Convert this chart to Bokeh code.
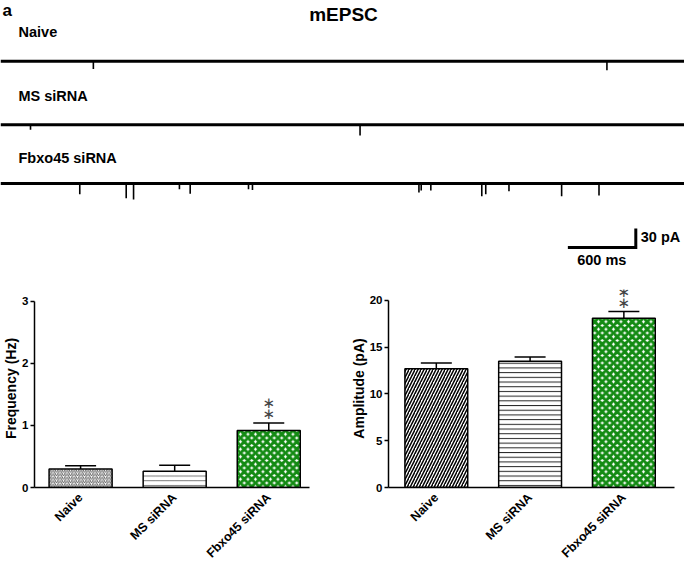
from math import pi
from bokeh.plotting import figure
from bokeh.layouts import column, row
from bokeh.models import Range1d, FixedTicker, Label, Whisker, TeeHead, ColumnDataSource
from bokeh.embed import file_html
from bokeh.resources import INLINE

# ---------------- data ----------------
trace_names = ["Naive", "MS siRNA", "Fbxo45 siRNA"]
trace_offset = [-96, -196, -289]          # pA, vertical placement of each trace
trace_len_ms = 6040
naive_t = [820, 5355]
naive_amp = [12, 14]
ms_t = [265, 3175]
ms_amp = [8, 17]
fbxo_t = [700, 1110, 1175, 1580, 1675, 2190, 2225, 3695, 3715, 3800,
          4250, 4285, 4490, 4955, 5285]
fbxo_amp = [17, 23, 25, 9, 16, 9, 10, 14, 11, 11, 20, 17, 12, 20, 19]
scale_ms = 600
scale_pa = 30

groups = ["Naive", "MS siRNA", "Fbxo45 siRNA"]
freq_mean = [0.30, 0.26, 0.92]
freq_sem = [0.05, 0.10, 0.12]
amp_mean = [12.7, 13.5, 18.1]
amp_sem = [0.6, 0.45, 0.7]
freq_ticks = [0, 1, 2, 3]
amp_ticks = [0, 5, 10, 15, 20]

FONT = "Liberation Sans"
GREEN = "#138a13"
TOP_H = 280

# ---------------- traces ----------------
top = figure(width=684, height=TOP_H, x_range=Range1d(0, trace_len_ms),
             y_range=Range1d(-442, 0), output_backend="svg",
             toolbar_location=None, x_axis_location=None, y_axis_location=None,
             min_border=0)
top.outline_line_color = None
top.xgrid.visible = False
top.ygrid.visible = False

events = [(naive_t, naive_amp), (ms_t, ms_amp), (fbxo_t, fbxo_amp)]
for off, (ts, amps) in zip(trace_offset, events):
    top.line(x=[0, trace_len_ms], y=[off, off], line_color="black", line_width=3)
    top.segment(x0=ts, y0=[off] * len(ts), x1=ts, y1=[off - a for a in amps],
                line_color="black", line_width=1.6)

sb_x0 = 5010
sb_y0 = -390
top.line(x=[sb_x0, sb_x0 + scale_ms, sb_x0 + scale_ms],
         y=[sb_y0, sb_y0, sb_y0 + scale_pa],
         line_color="black", line_width=3, line_join="miter")
top.add_layout(Label(x=sb_x0 + scale_ms, y=sb_y0 + scale_pa / 2 + 2, x_offset=5,
                     text=f"{scale_pa} pA", text_font=FONT, text_font_style="bold",
                     text_font_size="14.5px", text_baseline="middle", text_color="black"))
top.add_layout(Label(x=sb_x0 + scale_ms / 2, y=sb_y0, y_offset=-12,
                     text=f"{scale_ms} ms", text_font=FONT, text_font_style="bold",
                     text_font_size="14.5px", text_baseline="middle", text_align="center",
                     text_color="black"))

top.add_layout(Label(x=2, y=TOP_H, x_units="screen", y_units="screen", text="a",
                     text_font=FONT, text_font_style="bold", text_font_size="17px",
                     text_baseline="top", text_color="black"))
top.add_layout(Label(x=343, y=TOP_H - 14, x_units="screen", y_units="screen", text="mEPSC",
                     text_font=FONT, text_font_style="bold", text_font_size="19px",
                     text_baseline="middle", text_align="center", text_color="black"))
for name, ry in zip(trace_names, [31, 95, 157]):
    top.add_layout(Label(x=18, y=TOP_H - ry, x_units="screen", y_units="screen", text=name,
                         text_font=FONT, text_font_style="bold", text_font_size="14.5px",
                         text_baseline="middle", text_color="black"))

# ---------------- bar charts ----------------
def bar_panel(means, sems, ymax, yview, ticks, ylabel, width, xr, borders, styles):
    p = figure(width=width, height=288, x_range=Range1d(*xr), y_range=Range1d(0, yview),
               output_backend="svg", toolbar_location=None,
               min_border_left=borders[0], min_border_right=borders[1],
               min_border_top=borders[2], min_border_bottom=borders[3])
    p.outline_line_color = None
    p.xgrid.visible = False
    p.ygrid.visible = False
    xs = list(range(1, len(groups) + 1))
    uppers = [m + s for m, s in zip(means, sems)]
    for x, m, st in zip(xs, means, styles):
        p.vbar(x=[x], top=[m], bottom=0, width=0.67, line_color="black", line_width=1.5, **st)
    src = ColumnDataSource(dict(x=xs, lower=means, upper=uppers))
    p.add_layout(Whisker(source=src, base="x", lower="lower", upper="upper",
                         line_width=1.5, line_color="black",
                         upper_head=TeeHead(size=31, line_width=1.5, line_color="black"),
                         lower_head=None))
    for yo in (9, 19.5):
        p.add_layout(Label(x=xs[2], y=uppers[2], y_offset=yo, text="\u2217",
                           text_font="DejaVu Sans", text_font_size="15px",
                           text_color="#444444", text_align="center",
                           text_baseline="middle"))
    ya = p.yaxis[0]
    ya.bounds = (0, ymax)
    ya.ticker = FixedTicker(ticks=ticks)
    ya.minor_tick_line_color = None
    ya.major_tick_in = 0
    ya.major_tick_out = 4
    ya.major_tick_line_width = 1.5
    ya.axis_line_width = 1.5
    ya.axis_line_color = "black"
    ya.major_tick_line_color = "black"
    ya.major_label_text_color = "black"
    ya.major_label_text_font = FONT
    ya.major_label_text_font_style = "bold"
    ya.major_label_text_font_size = "11.5px"
    ya.major_label_standoff = 2
    ya.axis_label = ylabel
    ya.axis_label_text_color = "black"
    ya.axis_label_text_font = FONT
    ya.axis_label_text_font_style = "bold"
    ya.axis_label_text_font_size = "14px"
    ya.axis_label_standoff = 0
    xa = p.xaxis[0]
    xa.ticker = FixedTicker(ticks=xs)
    xa.major_label_overrides = {x: g for x, g in zip(xs, groups)}
    xa.major_label_orientation = pi / 4
    xa.major_tick_out = 0
    xa.major_tick_in = 0
    xa.minor_tick_line_color = None
    xa.axis_line_width = 1.5
    xa.axis_line_color = "black"
    xa.major_label_text_color = "black"
    xa.major_label_text_font = FONT
    xa.major_label_text_font_style = "bold"
    xa.major_label_text_font_size = "12.5px"
    xa.major_label_standoff = 8
    return p

left_styles = [
    dict(fill_color="white", hatch_pattern="/", hatch_scale=3.5, hatch_weight=0.8, hatch_color="#333333"),
    dict(fill_color="white", hatch_pattern="-", hatch_scale=4.7, hatch_weight=0.8, hatch_color="#555555"),
    dict(fill_color="white", hatch_pattern="x", hatch_scale=7.5, hatch_weight=3, hatch_color=GREEN),
]
right_styles = [
    dict(fill_color="white", hatch_pattern="/", hatch_scale=6, hatch_weight=1.5, hatch_color="black"),
    dict(fill_color="white", hatch_pattern="-", hatch_scale=4.7, hatch_weight=1.0, hatch_color="#222222"),
    dict(fill_color="white", hatch_pattern="x", hatch_scale=7.5, hatch_weight=3, hatch_color=GREEN),
]

left = bar_panel(freq_mean, freq_sem, 3, 3.19, freq_ticks, "Frequency (Hz)", 343,
                 (0.51, 3.433), (33, 34, 9, 79), left_styles)
right = bar_panel(amp_mean, amp_sem, 20, 21.16, amp_ticks, "Amplitude (pA)", 341,
                  (0.49, 3.54), (45, 10, 9, 79), right_styles)

layout = column(top, row(left, right))
open("out.html", "w").write(file_html(layout, INLINE))
